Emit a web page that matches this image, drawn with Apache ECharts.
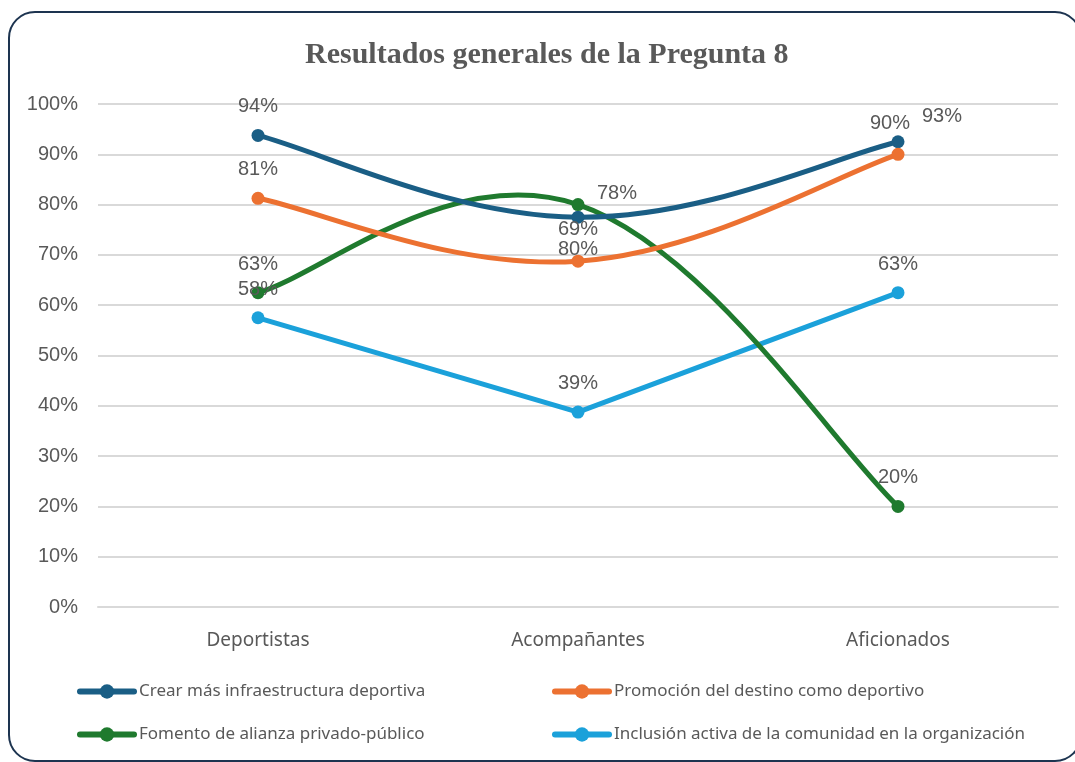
<!DOCTYPE html>
<html>
<head>
<meta charset="utf-8">
<script src="https://cdn.jsdelivr.net/npm/echarts@6/dist/echarts.min.js"></script>
<style>
  html, body { margin: 0; padding: 0; background: #fff; }
  #chart { width: 1075px; height: 762px; }
</style>
</head>
<body>
<div id="chart"></div>
<script>
// datos
const categories = ["Deportistas", "Acompañantes", "Aficionados"];
const seriesNames = [
  "Crear más infraestructura deportiva",
  "Promoción del destino como deportivo",
  "Fomento de alianza privado-público",
  "Inclusión activa de la comunidad en la organización"
];
const infraestructura = [93.75, 77.5, 92.5];
const promocion = [81.25, 68.75, 90];
const alianza = [62.5, 80, 20];
const inclusion = [57.5, 38.75, 62.5];
const yTicks = [0, 10, 20, 30, 40, 50, 60, 70, 80, 90, 100];

const colors = ["#1a5e85", "#ec7131", "#1f7a2e", "#1ba1da"];
// suavizado tipo Excel; la última serie va con líneas rectas
const tensions = [0.2, 0.2, 0.2, 0];

// ajustes de etiquetas que en el original se movieron a mano
const labelOffsets = [
  [[0, 0], [39, 5], [44, 3]],
  [[0, 0], [0, -3], [-8, -2]],
  [[0, 0], [0, 73], [0, 0]],
  [[0, 0], [0, 0], [0, 0]]
];

const allData = [infraestructura, promocion, alianza, inclusion];

const chart = echarts.init(document.getElementById("chart"));

// tramo entre el punto i y el i+1
function smoothSegment(vals, color, tension) {
  return function (params, api) {
    const i = params.dataIndex;
    const n = vals.length;
    if (i >= n - 1) return null;
    const pt = k => {
      const c = Math.max(0, Math.min(n - 1, k));
      return api.coord([c, vals[c]]);
    };
    const p0 = pt(i - 1), p1 = pt(i), p2 = pt(i + 1), p3 = pt(i + 2);
    return {
      type: "bezierCurve",
      shape: {
        x1: p1[0], y1: p1[1],
        x2: p2[0], y2: p2[1],
        cpx1: p1[0] + (p2[0] - p0[0]) * tension,
        cpy1: p1[1] + (p2[1] - p0[1]) * tension,
        cpx2: p2[0] - (p3[0] - p1[0]) * tension,
        cpy2: p2[1] - (p3[1] - p1[1]) * tension
      },
      style: { stroke: color, lineWidth: 5, fill: null, lineCap: "round", lineJoin: "round" },
      silent: true
    };
  };
}

const series = [];
allData.forEach((vals, i) => {
  series.push({
    name: seriesNames[i],
    type: "line",
    data: vals.map((v, j) => ({
      value: v,
      label: { offset: labelOffsets[i][j] }
    })),
    symbol: "circle",
    symbolSize: 13,
    lineStyle: { width: 5, color: colors[i], opacity: 0 },
    itemStyle: { color: colors[i] },
    label: {
      show: true,
      position: "top",
      distance: 12,
      color: "#595959",
      fontSize: 20,
      fontFamily: "Liberation Sans",
      formatter: p => Math.round(p.value) + "%"
    },
    z: 4
  });
});
allData.forEach((vals, i) => {
  series.push({
    name: seriesNames[i],
    type: "custom",
    data: vals.map((v, j) => [j, v]),
    renderItem: smoothSegment(vals, colors[i], tensions[i]),
    z: 3 - i * 0.1
  });
});

const legendText = {
  color: "#595959",
  fontSize: 17,
  fontFamily: "Noto Sans"
};

function legendItems(idx) {
  return idx.map(i => ({
    name: seriesNames[i],
    itemStyle: { color: colors[i], opacity: 1 },
    lineStyle: { color: colors[i], width: 6, opacity: 1, cap: "round" }
  }));
}

chart.setOption({
  backgroundColor: "#fff",
  animation: false,
  color: colors,
  graphic: [{
    type: "rect",
    shape: { x: 9, y: 12, width: 1072, height: 749, r: 26 },
    style: { fill: "none", stroke: "#1d3450", lineWidth: 2 },
    silent: true
  }],
  title: {
    text: "Resultados generales de la Pregunta 8",
    left: 300,
    top: 35,
    textStyle: {
      fontFamily: "Liberation Serif",
      fontWeight: "bold",
      fontSize: 30,
      color: "#595959"
    }
  },
  legend: [{
    orient: "vertical",
    left: 72,
    top: 678,
    itemWidth: 54,
    itemHeight: 18,
    itemGap: 26,
    data: legendItems([0, 2]),
    textStyle: legendText
  }, {
    orient: "vertical",
    left: 547,
    top: 678,
    itemWidth: 54,
    itemHeight: 18,
    itemGap: 26,
    data: legendItems([1, 3]),
    textStyle: legendText
  }],
  grid: {
    left: 98,
    right: 17,
    top: 104,
    bottom: 155
  },
  xAxis: {
    type: "category",
    data: categories,
    boundaryGap: true,
    axisLine: { lineStyle: { color: "#d9d9d9", width: 2 } },
    axisTick: { show: false },
    axisLabel: {
      margin: 24,
      color: "#595959",
      fontSize: 19,
      fontFamily: "Noto Sans"
    }
  },
  yAxis: {
    type: "value",
    min: yTicks[0],
    max: yTicks[yTicks.length - 1],
    interval: 10,
    axisLine: { show: false },
    axisTick: { show: false },
    splitLine: { lineStyle: { color: "#d9d9d9", width: 2 } },
    axisLabel: {
      margin: 20,
      color: "#595959",
      fontSize: 20,
      fontFamily: "Liberation Sans",
      formatter: v => v + "%"
    }
  },
  series: series
});
</script>
</body>
</html>
